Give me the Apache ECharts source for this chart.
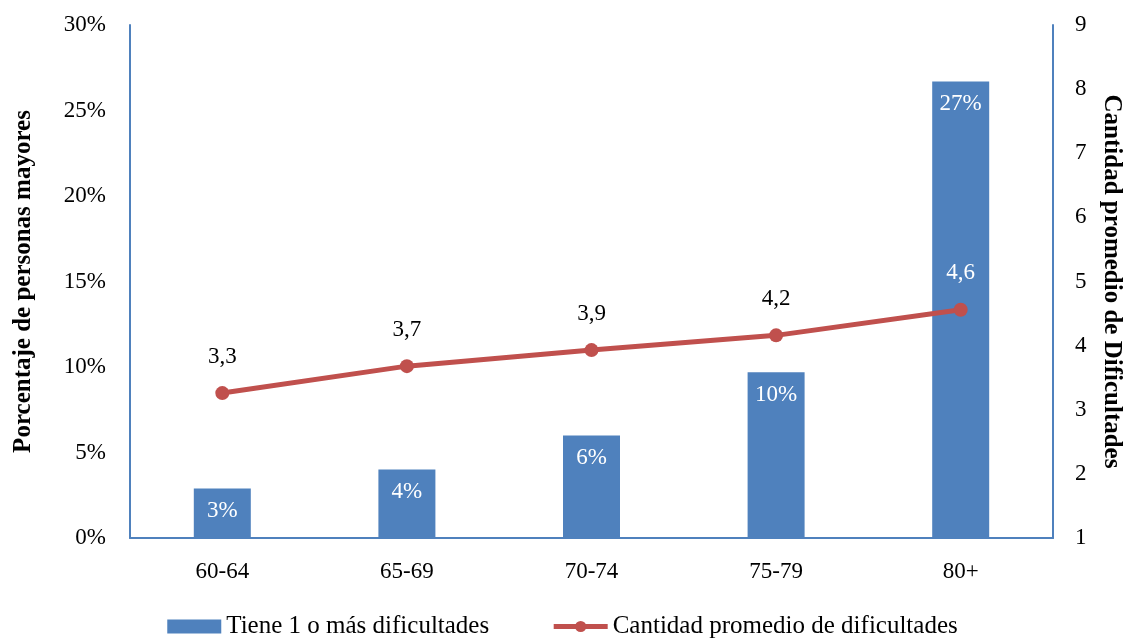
<!DOCTYPE html>
<html><head><meta charset="utf-8">
<script src="https://cdn.jsdelivr.net/npm/echarts@6/dist/echarts.min.js"></script>
<style>html,body{margin:0;padding:0;background:#fff}#c{width:1125px;height:641px}</style>
</head><body><div id="c"></div>
<script>
var categories = ['60-64','65-69','70-74','75-79','80+'];
var pctValues = [2.9, 4.0, 6.0, 9.7, 26.7];
var avgValues = [3.26, 3.68, 3.93, 4.16, 4.56];
var leftTicks = [0,5,10,15,20,25,30];
var rightTicks = [1,2,3,4,5,6,7,8,9];
var F = 'Liberation Serif';
var chart = echarts.init(document.getElementById('c'));
chart.setOption({
  animation:false,
  textStyle:{fontFamily:F},
  grid:{left:130,right:72,top:25,bottom:103,outerBoundsMode:'none',containLabel:false},
  legend:{top:609,left:'center',itemWidth:54,itemHeight:14,itemGap:62,
    textStyle:{fontFamily:F,fontSize:25,color:'#000'},
    data:[{name:'Tiene 1 o más dificultades',icon:'rect'},
          {name:'Cantidad promedio de dificultades',
           lineStyle:{width:5,color:'#C0504D'},itemStyle:{color:'#C0504D'}}]},
  xAxis:{type:'category',data:categories,
    axisLine:{lineStyle:{color:'#4F81BD',width:2}},axisTick:{show:false},
    axisLabel:{color:'#000',fontSize:23,fontFamily:F,margin:22}},
  yAxis:[{type:'value',min:0,max:30,interval:5,
    name:'Porcentaje de personas mayores',nameLocation:'middle',nameRotate:90,nameGap:94,
    nameTextStyle:{fontFamily:F,fontSize:25,fontWeight:'bold',color:'#000'},
    axisLine:{show:true,lineStyle:{color:'#4F81BD',width:2}},axisTick:{show:false},splitLine:{show:false},
    axisLabel:{color:'#000',fontSize:23,fontFamily:F,margin:24,formatter:'{value}%'}},
   {type:'value',min:1,max:9,interval:1,position:'right',
    name:'Cantidad promedio de Dificultades',nameLocation:'middle',nameRotate:-90,nameGap:46,
    nameTextStyle:{fontFamily:F,fontSize:25,fontWeight:'bold',color:'#000'},
    axisLine:{show:true,lineStyle:{color:'#4F81BD',width:2}},axisTick:{show:false},splitLine:{show:false},
    axisLabel:{color:'#000',fontSize:23,fontFamily:F,margin:22}}],
  series:[{name:'Tiene 1 o más dificultades',type:'bar',data:pctValues,barWidth:57,
    itemStyle:{color:'#4F81BD'},
    label:{show:true,position:'insideTop',distance:11,color:'#fff',fontSize:23,fontFamily:F,
      formatter:function(p){return Math.round(p.value)+'%';}}},
   {name:'Cantidad promedio de dificultades',type:'line',yAxisIndex:1,
    data:avgValues.map(function(v,i){return i===4?{value:v,label:{color:'#fff'}}:v;}),
    lineStyle:{color:'#C0504D',width:5},itemStyle:{color:'#C0504D'},
    symbol:'circle',symbolSize:14,
    label:{show:true,position:'top',distance:18,color:'#000',fontSize:23,fontFamily:F,
      formatter:function(p){return p.value.toFixed(1).replace('.',',');}}}]
});
</script></body></html>
